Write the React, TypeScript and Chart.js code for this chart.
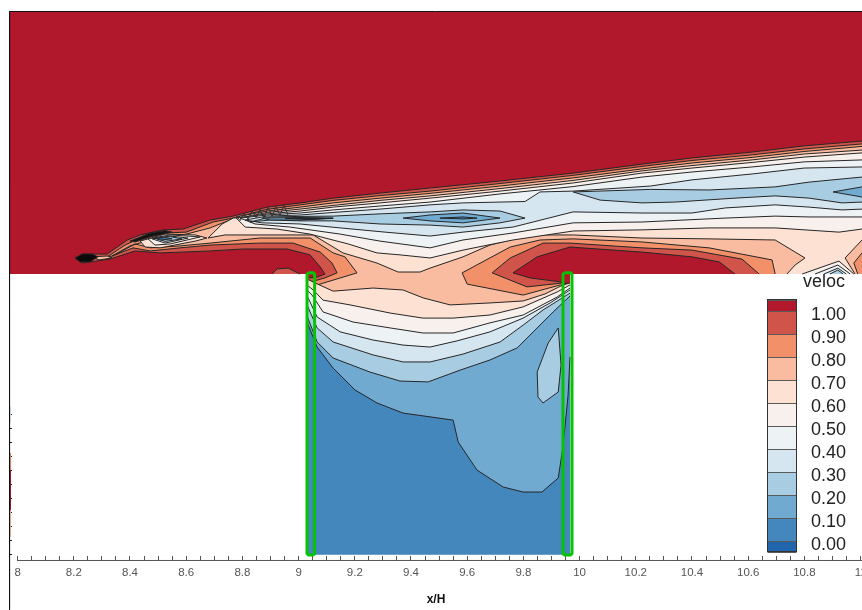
import React, { useEffect, useRef } from "react";
import { Chart, registerables } from "chart.js";

Chart.register(...registerables);

type P = [number, number];

// Domain limits in x/H, y/H
const xMin = 7.973, xMax = 11.005, yMin = -1.0214, yMax = 0.9324;
const wallL = 9.03, wallR = 9.966, floorY = -0.998;

const legendLabels = ["1.00","0.90","0.80","0.70","0.60","0.50","0.40","0.30","0.20","0.10","0.00"];
const legendColors = ["#b2182b","#d1544a","#f19069","#fabca0","#fde1d2","#f7f0ec","#edf2f5","#d6e6f0","#a8cde3","#70aad1","#4387bd","#2166ac"];
const [c100, c90, c80, c70, c60, c50, c40, c30, c20, c10, c00] = legendColors;

const xLabelValues = [8,8.2,8.4,8.6,8.8,9,9.2,9.4,9.6,9.8,10,10.2,10.4,10.6,10.8,11];

const field: P[] = [[7.973,.9324],[11.005,.9324],[11.005,0],[9.966,0],[9.966,-.998],[9.03,-.998],[9.03,0],[7.973,0]];
const bump: P[] = [[8.906,0],[8.923,.018],[8.963,.021],[9.005,0]];

const shear90: P[] = [[8.205,.057],[8.23,.071],[8.319,.071],[8.39,.121],[8.436,.139],[8.518,.157],[8.589,.16],[8.685,.192],[8.767,.206],[8.888,.238],[9.005,.253],[9.123,.27],[9.29,.288],[9.468,.306],[9.717,.331],[9.977,.359],[10.222,.391],[10.4,.413],[10.614,.434],[10.799,.456],[11.005,.473],
  [11.005,0],[10.553,0],[10.497,.043],[10.4,.061],[10.222,.078],[9.966,.096],[9.849,.061],[9.763,.004],[9.824,-.014],[9.931,-.028],[9.966,-.036],[9.966,-.998],[9.03,-.998],[9.03,-.014],[9.066,-.011],[9.094,0],[9.077,.025],[9.041,.068],[8.959,.089],[8.803,.089],[8.685,.082],[8.507,.075],[8.418,.082],[8.329,.053],[8.23,.039]];

const shear80: P[] = [[8.319,.061],[8.383,.103],[8.436,.128],[8.525,.146],[8.6,.149],[8.696,.185],[8.767,.199],[8.888,.23],[9.005,.246],[9.123,.262],[9.29,.279],[9.468,.295],[9.717,.322],[9.977,.351],[10.222,.383],[10.4,.404],[10.614,.424],[10.799,.445],[11.005,.463],
  [11.005,0],[10.639,0],[10.578,.053],[10.4,.085],[10.222,.093],[9.966,.11],[9.87,.11],[9.753,.057],[9.689,.004],[9.813,-.046],[9.938,-.032],[9.966,-.039],[9.966,-.998],[9.03,-.998],[9.03,-.032],[9.094,-.014],[9.137,.004],[9.119,.039],[9.077,.078],[8.98,.11],[8.863,.11],[8.685,.103],[8.578,.093],[8.472,.082],[8.411,.093],[8.336,.064]];

const shear70: P[] = [[8.336,.064],[8.4,.1],[8.472,.121],[8.589,.139],[8.685,.164],[8.738,.185],[8.792,.206],[8.888,.224],[9.005,.238],[9.123,.253],[9.29,.27],[9.468,.287],[9.717,.313],[9.977,.342],[10.222,.374],[10.4,.395],[10.614,.415],[10.799,.436],[11.005,.454],
  [11.005,.075],[10.976,.039],[10.99,0],[10.696,0],[10.685,.05],[10.461,.093],[10.222,.114],[9.977,.125],[9.859,.121],[9.753,.096],[9.582,.004],[9.6,-.036],[9.799,-.075],[9.931,-.039],[9.966,-.043],[9.966,-.998],[9.03,-.998],[9.03,-.057],[9.066,-.039],[9.208,.004],[9.165,.061],[9.123,.075],[9.041,.128],[8.863,.128],[8.685,.11],[8.578,.1],[8.472,.093],[8.418,.107],[8.365,.078]];

const shear60: P[] = [[8.678,.128],[8.728,.178],[8.767,.199],[8.81,.203],[8.888,.219],[9.005,.231],[9.123,.244],[9.29,.262],[9.468,.278],[9.717,.304],[9.977,.333],[10.222,.367],[10.4,.386],[10.614,.406],[10.799,.427],[11.005,.441],
  [11.005,.121],[10.945,.057],[10.98,0],[10.738,0],[10.767,.032],[10.802,.057],[10.696,.121],[10.461,.125],[10.222,.128],[9.977,.139],[9.824,.139],[9.681,.103],[9.585,.061],[9.468,.021],[9.432,.007],[9.354,.007],[9.279,.039],[9.158,.075],[9.052,.139],[8.863,.139],[8.738,.139]];

const shear50: P[] = [[8.778,.199],[8.888,.214],[9.005,.224],[9.123,.238],[9.29,.253],[9.468,.27],[9.717,.295],[9.977,.324],[10.222,.359],[10.4,.377],[10.614,.397],[10.799,.416],[11.005,.431],
  [11.005,.16],[10.923,.149],[10.696,.164],[10.461,.164],[10.222,.157],[9.977,.153],[9.763,.121],[9.585,.085],[9.468,.057],[9.361,.068],[9.279,.075],[9.176,.107],[9.041,.142],[8.923,.16],[8.81,.167]];

const shear40: P[] = [[8.792,.199],[8.888,.21],[9.005,.217],[9.123,.228],[9.29,.242],[9.468,.256],[9.717,.285],[9.859,.299],[9.977,.311],[10.222,.345],[10.4,.363],[10.614,.381],[10.799,.399],[11.005,.406],
  [11.005,.203],[10.817,.203],[10.696,.206],[10.518,.199],[10.222,.185],[9.977,.182],[9.763,.146],[9.585,.121],[9.468,.093],[9.29,.117],[9.148,.142],[8.97,.167],[8.845,.178]];

const shear30: P[] = [[8.81,.192],[8.888,.206],[9.005,.21],[9.123,.219],[9.29,.231],[9.468,.246],[9.585,.253],[9.806,.258],[9.859,.292],[9.977,.295],[10.252,.313],[10.4,.335],[10.614,.356],[10.799,.377],[11.005,.381],
  [11.005,.231],[10.934,.228],[10.817,.238],[10.696,.246],[10.518,.235],[10.4,.217],[10.222,.217],[9.977,.221],[9.763,.167],[9.585,.149],[9.468,.135],[9.308,.149],[9.148,.164],[9.005,.178],[8.87,.182]];

const tube20: P[] = [[8.827,.185],[8.899,.203],[9.005,.205],[9.123,.206],[9.29,.214],[9.468,.221],[9.585,.228],[9.717,.224],[9.806,.199],[9.717,.182],[9.585,.167],[9.468,.174],[9.29,.178],[9.123,.189],[9.005,.189],[8.899,.192]];
const tubeRight20: P[] = [[9.977,.292],[10.252,.301],[10.461,.299],[10.696,.31],[10.817,.327],[11.005,.345],[11.005,.256],[10.934,.253],[10.817,.27],[10.696,.278],[10.553,.27],[10.34,.256],[10.222,.253],[10.073,.263]];
const lensMid10: P[] = [[9.372,.199],[9.468,.21],[9.585,.217],[9.717,.199],[9.585,.182],[9.468,.189]];
const lensLeft10: P[] = [[8.87,.199],[9.005,.201],[9.123,.199],[9.005,.192],[8.899,.192]];
const lensRight10: P[] = [[10.902,.292],[11.005,.31],[11.005,.274]];
const lensMid00: P[] = [[9.503,.199],[9.585,.203],[9.635,.199],[9.585,.196]];
const lensLeft00: P[] = [[8.952,.198],[9.059,.199],[9.123,.198],[9.041,.194]];

const vortex60: P[] = [[8.436,.117],[8.525,.142],[8.632,.139],[8.674,.128],[8.632,.117],[8.507,.093],[8.454,.096]];
const vortex50: P[] = [[8.464,.125],[8.543,.139],[8.65,.132],[8.543,.107],[8.489,.103]];
const vortex30: P[] = [[8.479,.125],[8.543,.135],[8.607,.128],[8.525,.11]];
const vortex20: P[] = [[8.489,.128],[8.543,.133],[8.585,.125],[8.525,.116]];
const vortex00: P[] = [[8.493,.126],[8.525,.13],[8.55,.125],[8.507,.121]];
const denseContours: P[] = [[8.4,.117],[8.472,.146],[8.525,.155],[8.55,.149],[8.472,.132],[8.418,.114]];
const tipContours: P[] = [[8.205,.057],[8.23,.071],[8.265,.071],[8.286,.061],[8.258,.043],[8.222,.043]];
const tailStreak: P[] = [[8.265,.061],[8.319,.064],[8.336,.057],[8.29,.05]];
const fanContours: P[] = [[8.778,.206],[8.792,.19],[8.806,.217],[8.82,.195],[8.835,.224],[8.849,.2],[8.863,.231],[8.877,.2],[8.892,.238],[8.906,.205],[8.92,.24],[8.934,.208],[8.948,.245],[8.962,.21]];

const corner50: P[] = [[10.792,0],[10.923,.046],[10.976,0]];
const corner40: P[] = [[10.838,0],[10.919,.032],[10.963,0]];
const corner30: P[] = [[10.87,0],[10.919,.021],[10.949,0]];
const corner20: P[] = [[10.891,0],[10.919,.014],[10.938,0]];

const closeBottom: P[] = [[9.966,-.998],[9.03,-.998]];
const cavity60: P[] = [[9.03,-.018],[9.059,-.032],[9.123,-.061],[9.265,-.05],[9.372,-.057],[9.443,-.085],[9.539,-.11],[9.681,-.103],[9.799,-.096],[9.877,-.071],[9.941,-.039],[9.966,-.032]];
const cavity50: P[] = [[9.03,-.039],[9.052,-.057],[9.087,-.093],[9.183,-.11],[9.326,-.139],[9.443,-.157],[9.55,-.157],[9.681,-.146],[9.799,-.117],[9.92,-.064],[9.966,-.039]];
const cavity40: P[] = [[9.03,-.057],[9.048,-.075],[9.087,-.135],[9.194,-.171],[9.326,-.192],[9.443,-.21],[9.55,-.21],[9.681,-.174],[9.799,-.146],[9.92,-.082],[9.966,-.05]];
const cavity30: P[] = [[9.03,-.078],[9.041,-.1],[9.066,-.153],[9.148,-.206],[9.265,-.235],[9.372,-.253],[9.468,-.26],[9.564,-.238],[9.681,-.206],[9.799,-.157],[9.895,-.103],[9.966,-.057]];
const cavity20: P[] = [[9.03,-.11],[9.066,-.192],[9.123,-.242],[9.265,-.288],[9.372,-.313],[9.468,-.313],[9.585,-.285],[9.717,-.242],[9.799,-.182],[9.87,-.128],[9.966,-.068]];
const cavity10: P[] = [[9.03,-.149],[9.066,-.242],[9.123,-.299],[9.254,-.349],[9.361,-.381],[9.461,-.384],[9.575,-.342],[9.681,-.306],[9.778,-.263],[9.835,-.206],[9.906,-.135],[9.966,-.078]];
const cavity00: P[] = [[9.03,-.171],[9.066,-.26],[9.123,-.335],[9.201,-.413],[9.279,-.459],[9.372,-.495],[9.55,-.52],[9.568,-.598],[9.635,-.698],[9.728,-.758],[9.799,-.776],[9.866,-.776],[9.924,-.726],[9.938,-.634],[9.948,-.545],[9.959,-.431],[9.966,-.295]];
const cavityIsland20: P[] = [[9.924,-.192],[9.888,-.246],[9.849,-.349],[9.852,-.438],[9.87,-.459],[9.924,-.42],[9.934,-.324]];

const jetLeft: P[] = [[9.035,.004],[9.052,.004],[9.057,-.001],[9.057,-.995],[9.052,-1],[9.035,-1],[9.03,-.995],[9.03,-.001]];
const jetRight: P[] = [[9.946,.004],[9.968,.004],[9.973,-.001],[9.973,-.995],[9.968,-1],[9.946,-1],[9.941,-.995],[9.941,-.001]];

const frame: P[] = [[11.005,.9342],[7.9714,.9342],[7.9714,-1.195]];
const xAxisLine: P[] = [[8,-1.0196],[11.005,-1.0196]];
const wallStrips: [P[], string][] = [
  [[[7.9745,-.473],[7.9745,-.53]], c30],
  [[[7.9745,-.637],[7.9745,-.698]], c80],
  [[[7.9745,-.698],[7.9745,-.84]], c100],
  [[[7.9745,-.84],[7.9745,-.936]], c70],
];

const onEdge = (p: P) =>
  p[0] === xMax || p[0] === wallL || p[0] === wallR || p[1] === 0 || p[1] === floorY;

const contourStroke = "#262626";

const toXY = (pts: P[]) => pts.map(([x, y]) => ({ x, y }));

function band(pts: P[], color: string, outlined = true) {
  const fillSet = {
    data: toXY(pts),
    backgroundColor: color,
    borderColor: "transparent",
    borderWidth: 0,
    fill: "shape" as const,
    pointRadius: 0,
    tension: 0,
  };
  if (!outlined) return [fillSet];
  const loop = [...pts, pts[0]];
  const lineSet = {
    data: toXY(loop),
    borderColor: contourStroke,
    borderWidth: 1,
    fill: false,
    pointRadius: 0,
    tension: 0,
    borderJoinStyle: "round" as const,
    segment: {
      borderColor: (ctx: any) =>
        onEdge(loop[ctx.p0DataIndex]) && onEdge(loop[ctx.p1DataIndex]) ? "transparent" : undefined,
    },
  };
  return [fillSet, lineSet];
}

function stroke(pts: P[], color: string, width: number, closed = false, clip = true) {
  const data = closed ? [...pts, pts[0]] : pts;
  return {
    data: toXY(data),
    borderColor: color,
    borderWidth: width,
    fill: false,
    pointRadius: 0,
    tension: 0,
    borderJoinStyle: "round" as const,
    ...(clip ? {} : { clip: false as const }),
  };
}

const painted = [
  ...band(field, c100, false),
  ...band(bump, c90),
  ...band(shear90, c90),
  ...band(shear80, c80),
  ...band(shear70, c70),
  ...band(shear60, c60),
  ...band(shear50, c50),
  ...band(shear40, c40),
  ...band(shear30, c30),
  ...band(tube20, c20),
  ...band(tubeRight20, c20),
  ...band(lensMid10, c10),
  ...band(lensLeft10, c10),
  ...band(lensRight10, c10),
  ...band(lensMid00, c00),
  ...band(lensLeft00, "#1a2a3a"),
  ...band(vortex60, c60),
  ...band(vortex50, c50),
  ...band(vortex30, c30),
  ...band(vortex20, c20),
  ...band(vortex00, c00),
  ...band(denseContours, "#141414"),
  ...band(tailStreak, c70),
  ...band(tipContours, "#0a0a0a"),
  stroke(fanContours, "#333333", 1),
  ...band(corner50, c50),
  ...band(corner40, c40),
  ...band(corner30, c30),
  ...band(corner20, c20),
  ...band([...cavity60, ...closeBottom], c60),
  ...band([...cavity50, ...closeBottom], c50),
  ...band([...cavity40, ...closeBottom], c40),
  ...band([...cavity30, ...closeBottom], c30),
  ...band([...cavity20, ...closeBottom], c20),
  ...band([...cavity10, ...closeBottom], c10),
  ...band([...cavity00, ...closeBottom], c00),
  ...band(cavityIsland20, c20),
  stroke(jetLeft, "#04c404", 3, true),
  stroke(jetRight, "#04c404", 3, true),
  ...wallStrips.map(([pts, color]) => stroke(pts, color, 1, false, false)),
  stroke(frame, "#111111", 1, false, false),
  stroke(xAxisLine, "#555555", 1, false, false),
];

const xTicks: number[] = [];
for (let i = 0; i <= 60; i++) xTicks.push(8 + i * 0.05);
const yTicks: number[] = [];
for (let i = 0; i <= 10; i++) yTicks.push(-1 + i * 0.05);

const colorbar = {
  id: "colorbar",
  afterDraw(chart: any) {
    const { ctx } = chart;
    const bounds = [299.5, 311, 334, 357, 380, 403, 426, 449, 472, 495, 518, 541, 552];
    ctx.save();
    legendColors.forEach((color, i) => {
      ctx.fillStyle = color;
      ctx.fillRect(767.5, bounds[i], 29, bounds[i + 1] - bounds[i]);
    });
    ctx.strokeStyle = "#5a5a5a";
    ctx.lineWidth = 1;
    bounds.forEach((y) => {
      ctx.beginPath();
      ctx.moveTo(767.5, Math.round(y) + 0.5);
      ctx.lineTo(796.5, Math.round(y) + 0.5);
      ctx.stroke();
    });
    ctx.strokeStyle = "#333333";
    ctx.strokeRect(767.5, 299.5, 29, 252);
    ctx.fillStyle = "#222222";
    ctx.font = '18px "Liberation Sans"';
    ctx.textBaseline = "middle";
    ctx.textAlign = "left";
    ctx.fillText("veloc", 803, 282);
    legendLabels.forEach((label, i) => ctx.fillText(label, 811, bounds[i + 1] + 4));
    ctx.restore();
  },
};

export default function App() {
  const ref = useRef<HTMLCanvasElement>(null);
  useEffect(() => {
    const chart = new Chart(ref.current!, {
      type: "line",
      data: { datasets: [...painted].reverse() as any },
      plugins: [colorbar],
      options: {
        animation: false,
        responsive: false,
        devicePixelRatio: 1,
        layout: { padding: { left: 10, top: 12, right: 0, bottom: 0 } },
        plugins: { legend: { display: false }, tooltip: { enabled: false } },
        scales: {
          x: {
            type: "linear",
            min: xMin,
            max: xMax,
            afterBuildTicks: (axis: any) => {
              axis.ticks = xTicks.map((value) => ({ value }));
            },
            afterFit: (axis: any) => {
              axis.height = 49;
              axis.paddingLeft = 0;
              axis.paddingRight = 0;
            },
            border: { display: false },
            grid: { drawOnChartArea: false, tickLength: -5, tickColor: "#555555", lineWidth: 1 },
            ticks: {
              autoSkip: false,
              maxRotation: 0,
              padding: 10,
              color: "#555555",
              font: { family: '"Liberation Sans"', size: 11.5 },
              callback: (v: any) => {
                const hit = xLabelValues.find((t) => Math.abs(t - v) < 1e-6);
                return hit === undefined ? "" : String(hit);
              },
            },
            title: {
              display: true,
              text: "x/H",
              color: "#111111",
              font: { family: '"Liberation Sans"', size: 12, weight: "bold" },
              padding: { top: 0, bottom: 3 },
            },
          },
          y: {
            type: "linear",
            min: yMin,
            max: yMax,
            afterBuildTicks: (axis: any) => {
              axis.ticks = yTicks.map((value) => ({ value }));
            },
            afterFit: (axis: any) => {
              axis.width = 0;
            },
            border: { display: false },
            grid: { drawOnChartArea: false, tickLength: -2, tickColor: "#222222" },
            ticks: { display: false, autoSkip: false },
          },
        },
      } as any,
    });
    return () => chart.destroy();
  }, []);
  return (
    <div style={{ position: "fixed", left: 0, top: 0, width: 862, height: 610, background: "#fff" }}>
      <canvas ref={ref} width={862} height={610} style={{ display: "block" }} />
    </div>
  );
}
